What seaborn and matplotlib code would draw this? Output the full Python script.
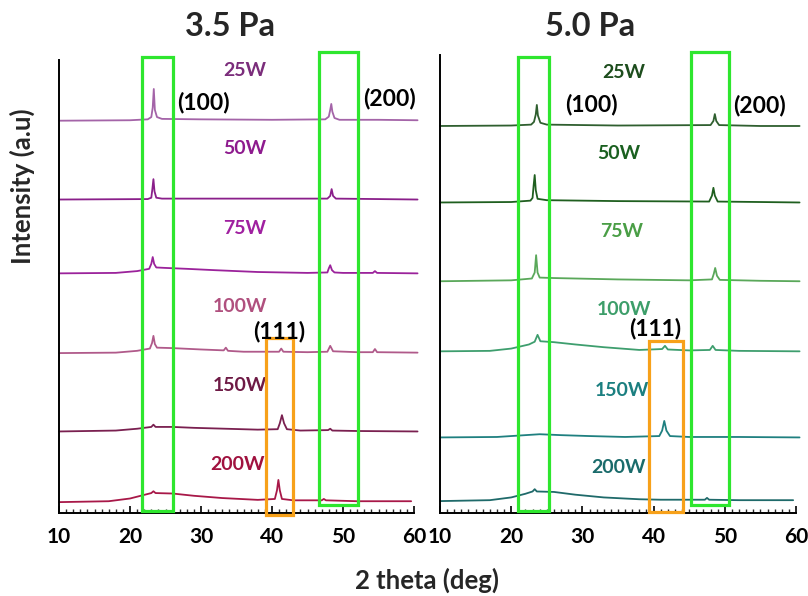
import matplotlib
matplotlib.use("Agg")
import matplotlib.pyplot as plt
from matplotlib.patches import Rectangle
from matplotlib.ticker import MultipleLocator
import seaborn as sns

sns.set_theme(style="white")
plt.rcParams['font.family'] = ['Lato', 'DejaVu Sans']
plt.rcParams['font.weight'] = 'bold'

powers = ["25W", "50W", "75W", "100W", "150W", "200W"]
panel_titles = ["3.5 Pa", "5.0 Pa"]

# ---- 3.5 Pa traces (2theta, stacked intensity a.u.) ----
p35_25_x = [10, 20, 22.5, 23.0, 23.2, 23.35, 23.5, 23.8, 24.5, 30, 40, 47.5, 48.0, 48.2, 48.35, 48.5, 48.8, 49.5, 55, 60.5]
p35_25_y = [86.6, 86.7, 86.9, 87.4, 89.5, 93.6, 89.0, 87.4, 87.0, 86.9, 86.8, 86.9, 87.5, 89.0, 90.3, 88.6, 87.2, 86.8, 86.8, 86.7]
p35_50_x = [10, 22.5, 23.0, 23.15, 23.3, 23.45, 23.7, 24.5, 35, 47.8, 48.2, 48.4, 48.6, 49.0, 55, 60.5]
p35_50_y = [69.2, 69.3, 69.6, 71.5, 73.7, 71.0, 69.6, 69.4, 69.4, 69.4, 70.0, 71.5, 70.0, 69.4, 69.3, 69.2]
p35_75_x = [10, 18, 21, 22.7, 23.0, 23.2, 23.4, 23.7, 25, 28, 32, 38, 45, 47.8, 48.0, 48.2, 48.45, 48.8, 50, 54.2, 54.5, 54.8, 60.5]
p35_75_y = [52.9, 53.0, 53.4, 53.9, 55.0, 56.5, 55.0, 54.2, 54.1, 53.9, 53.6, 53.2, 53.0, 53.1, 54.0, 54.7, 53.6, 53.1, 53.0, 53.0, 53.4, 53.0, 52.9]
p35_100_x = [10, 18, 21, 22.8, 23.1, 23.3, 23.5, 23.8, 26, 30, 33.2, 33.5, 33.8, 36, 41.0, 41.3, 41.6, 45, 47.8, 48.2, 48.6, 52, 54.2, 54.5, 54.8, 60.5]
p35_100_y = [35.3, 35.4, 35.8, 36.3, 37.5, 39.1, 37.3, 36.5, 36.4, 36.1, 35.9, 36.5, 35.8, 35.6, 35.6, 36.3, 35.6, 35.5, 35.6, 36.9, 35.7, 35.5, 35.5, 36.2, 35.5, 35.4]
p35_150_x = [10, 18, 21, 23.0, 23.3, 23.6, 26, 29, 33.5, 38, 40.8, 41.1, 41.4, 41.7, 42.1, 44, 47.9, 48.2, 48.5, 52, 60.5]
p35_150_y = [18.0, 18.2, 18.6, 19.0, 19.5, 19.0, 19.0, 18.8, 18.6, 18.4, 18.5, 19.8, 21.6, 19.8, 18.5, 18.2, 18.3, 18.6, 18.2, 18.1, 18.0]
p35_200_x = [10, 17, 20, 22, 23.0, 23.3, 23.6, 26, 29, 33, 38, 40.4, 40.7, 40.9, 41.1, 41.4, 43, 47.0, 47.3, 47.6, 52, 59.6]
p35_200_y = [2.4, 2.6, 3.2, 4.0, 4.4, 4.8, 4.4, 4.3, 3.8, 3.3, 2.9, 3.1, 5.0, 7.3, 5.0, 3.1, 2.8, 2.8, 3.1, 2.8, 2.6, 2.6]

# ---- 5.0 Pa traces ----
p50_25_x = [10, 20, 22.8, 23.2, 23.45, 23.6, 23.75, 24.1, 25, 35, 48.0, 48.4, 48.6, 48.8, 49.2, 55, 60.5]
p50_25_y = [84.5, 84.6, 84.8, 85.4, 87.0, 89.1, 86.8, 85.2, 84.8, 84.6, 84.7, 85.6, 87.1, 85.6, 84.7, 84.5, 84.5]
p50_50_x = [10, 20, 22.7, 23.0, 23.15, 23.3, 23.45, 23.7, 25, 35, 47.8, 48.2, 48.4, 48.6, 49.0, 55, 60.5]
p50_50_y = [67.8, 67.9, 68.2, 68.8, 71.5, 73.8, 70.5, 68.6, 68.3, 68.1, 68.0, 69.3, 71.0, 69.3, 68.0, 67.9, 67.8]
p50_75_x = [10, 20, 22.9, 23.3, 23.5, 23.7, 24.0, 26, 35, 45, 48.2, 48.45, 48.65, 48.9, 49.3, 55, 60.5]
p50_75_y = [50.6, 50.8, 51.2, 52.5, 56.3, 52.5, 51.4, 51.3, 51.0, 50.8, 51.0, 52.2, 53.5, 51.8, 50.9, 50.7, 50.6]
p50_100_x = [10, 17, 20, 22.5, 23.3, 23.7, 24.1, 26, 29, 33, 38, 41.2, 41.6, 42.0, 45, 47.9, 48.3, 48.7, 52, 60.5]
p50_100_y = [35.3, 35.4, 35.9, 36.8, 37.4, 38.9, 37.5, 37.3, 36.8, 36.2, 35.6, 35.8, 36.5, 35.7, 35.5, 35.6, 36.5, 35.6, 35.4, 35.3]
p50_150_x = [10, 18, 21, 24, 27, 31, 36, 40.8, 41.2, 41.5, 41.8, 42.3, 45, 52, 60.5]
p50_150_y = [16.5, 16.6, 16.9, 17.2, 17.0, 16.8, 16.6, 16.8, 18.0, 20.1, 18.0, 16.8, 16.6, 16.6, 16.5]
p50_200_x = [10, 17, 20, 22, 23.0, 23.3, 23.6, 26, 29, 33, 38, 41, 47.2, 47.5, 47.8, 52, 59.6]
p50_200_y = [2.6, 2.8, 3.4, 4.2, 4.7, 5.2, 4.7, 4.6, 4.0, 3.4, 3.0, 2.9, 2.9, 3.3, 2.9, 2.8, 2.8]

p35_traces = [(p35_25_x, p35_25_y), (p35_50_x, p35_50_y), (p35_75_x, p35_75_y),
              (p35_100_x, p35_100_y), (p35_150_x, p35_150_y), (p35_200_x, p35_200_y)]
p50_traces = [(p50_25_x, p50_25_y), (p50_50_x, p50_50_y), (p50_75_x, p50_75_y),
              (p50_100_x, p50_100_y), (p50_150_x, p50_150_y), (p50_200_x, p50_200_y)]

p35_line_colors = ["#a464a8", "#8a1f8a", "#9b229b", "#b05a8a", "#7a2050", "#a81848"]
p35_label_colors = ["#7b2d7b", "#8e1b8e", "#a020a0", "#b0507e", "#6e1a45", "#a0123f"]
p50_line_colors = ["#2f5f2f", "#1f5f1f", "#5aa85a", "#3e9e6e", "#1f8080", "#1f6a6a"]
p50_label_colors = ["#1d4d1d", "#1a6020", "#4a9e46", "#3d9e6a", "#1b7f80", "#1a6b6b"]

# label placement (layout): offset above each trace's baseline, and x centre
p35_label_dy = [11.0, 11.3, 9.9, 10.2, 10.2, 8.4]
p35_label_x = [36.2, 36.2, 36.2, 35.5, 35.5, 35.1]
p50_label_dy = [11.6, 10.7, 10.9, 9.2, 10.3, 7.4]
p50_label_x = [35.8, 35.1, 35.5, 35.8, 35.5, 35.1]

W, H = 808, 596
fig = plt.figure(figsize=(W / 100, H / 100), dpi=100)
ax1 = fig.add_axes([59 / W, 83 / H, 355 / W, 453 / H])
ax2 = fig.add_axes([440 / W, 83 / H, 356 / W, 458 / H])

green = "#2ee62e"
orange = "#f7a11a"

panels = [
    (ax1, p35_traces, p35_line_colors, p35_label_colors, p35_label_x, p35_label_dy,
     [(21.7, 0.44, 26.05, 100.7), (46.6, 1.77, 52.1, 101.8)], (39.2, -0.44, 43.0, 38.6),
     [((30.4, 90.7), "(100)"), ((56.6, 91.6), "(200)"), ((41.0, 40.0), "(111)")]),
    (ax2, p50_traces, p50_line_colors, p50_label_colors, p50_label_x, p50_label_dy,
     [(20.96, 0.44, 25.3, 99.6), (45.25, 1.75, 50.6, 100.7)], (39.35, 0.22, 44.1, 37.6),
     [((31.3, 89.1), "(100)"), ((54.9, 88.9), "(200)"), ((40.2, 40.2), "(111)")]),
]

for ax, traces, lcols, tcols, lxs, ldys, gboxes, obox, notes in panels:
    for (x, y), lc, tc, pw, lx, ldy in zip(traces, lcols, tcols, powers, lxs, ldys):
        sns.lineplot(x=x, y=y, ax=ax, color=lc, lw=1.3, sort=False, estimator=None)
        ax.lines[-1].set_clip_on(False)
        ax.text(lx, y[0] + ldy, pw, color=tc, fontsize=14, fontweight='bold',
                ha='center', va='center')
    for (x0, y0, x1, y1) in gboxes:
        ax.add_patch(Rectangle((x0, y0), x1 - x0, y1 - y0, fill=False, ec=green,
                               lw=2.3, clip_on=False, zorder=5))
    x0, y0, x1, y1 = obox
    ax.add_patch(Rectangle((x0, y0), x1 - x0, y1 - y0, fill=False, ec=orange,
                           lw=2.3, clip_on=False, zorder=5))
    for (tx, ty), s in notes:
        ax.text(tx, ty, s, fontsize=16.5, fontweight='bold', color='black',
                ha='center', va='center', zorder=6)
    ax.set_xlim(10, 60)
    ax.set_ylim(0, 100)
    ax.set_yticks([])
    ax.xaxis.set_major_locator(MultipleLocator(10))
    ax.xaxis.set_minor_locator(MultipleLocator(1))
    ax.tick_params(axis='x', which='major', direction='in', length=5, width=1.2,
                   bottom=True, labelsize=15, pad=10, colors='black')
    ax.tick_params(axis='x', which='minor', direction='in', length=3, width=1.0, bottom=True)
    for lab in ax.get_xticklabels():
        lab.set_fontweight('bold')
    for side in ['top', 'right']:
        ax.spines[side].set_visible(False)
    for side in ['left', 'bottom']:
        ax.spines[side].set_color('black')
        ax.spines[side].set_linewidth(1.4)
    ax.set_xlabel("")
    ax.set_ylabel("")
    ax.set_facecolor('white')
    ax.grid(False)

fig.text(230 / W, 1 - 27 / H, panel_titles[0], fontsize=23.5, fontweight='bold', ha='center', va='center')
fig.text(590 / W, 1 - 27 / H, panel_titles[1], fontsize=23.5, fontweight='bold', ha='center', va='center')
fig.text(22 / W, 1 - 186 / H, "Intensity (a.u)", fontsize=18.5, fontweight='bold', rotation=90,
         ha='center', va='center')
fig.text(427 / W, 1 - 580 / H, "2 theta (deg)", fontsize=18.5, fontweight='bold', ha='center', va='center')

fig.savefig("out.png", dpi=100, facecolor='white')
